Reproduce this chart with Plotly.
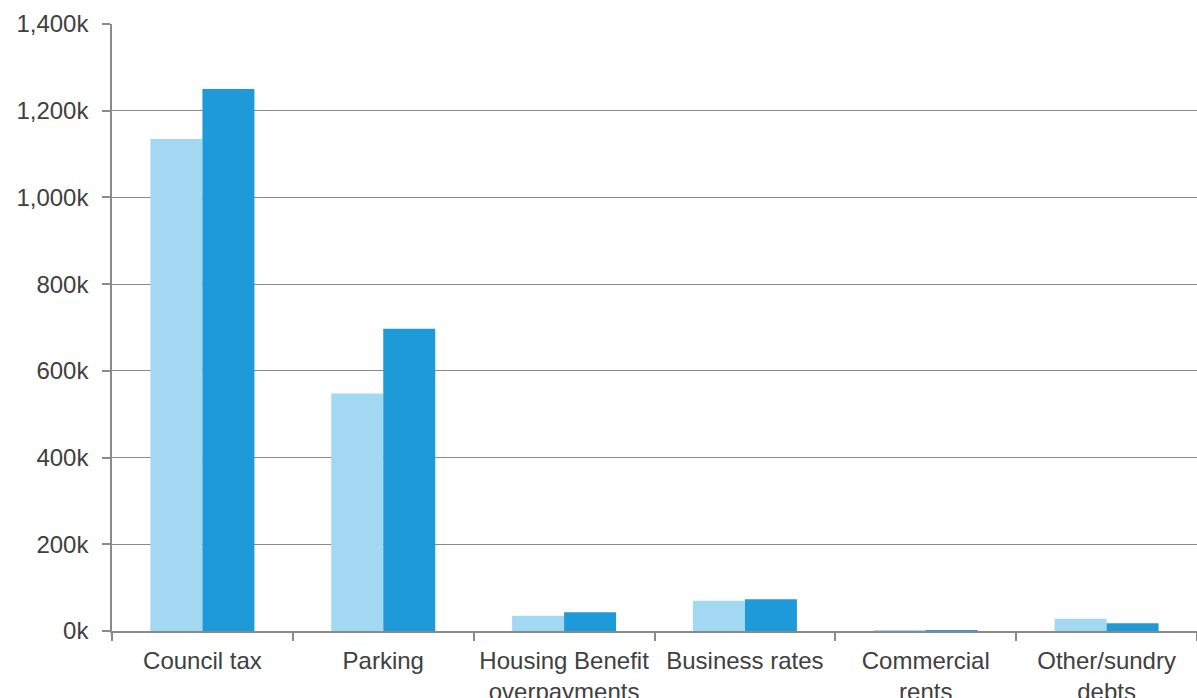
import plotly.graph_objects as go

categories = ["Council tax", "Parking", "Housing Benefit<br>overpayments", "Business rates",
              "Commercial<br>rents", "Other/sundry<br>debts"]
series_a = [1135000, 548000, 35000, 70000, 1000, 28000]
series_b = [1250000, 697000, 43000, 73000, 1000, 18000]
tick_vals = [0, 200000, 400000, 600000, 800000, 1000000, 1200000, 1400000]
tick_text = ["0k", "200k", "400k", "600k", "800k", "1,000k", "1,200k", "1,400k"]

grey = "#8a8a8a"
font = dict(family="Liberation Sans, Arial, sans-serif", size=24, color="#404040")

fig = go.Figure()
fig.add_trace(go.Bar(x=categories, y=series_a, marker=dict(color="#a3d8f2", line=dict(width=0)),
                     showlegend=False))
fig.add_trace(go.Bar(x=categories, y=series_b, marker=dict(color="#1f9ad8", line=dict(width=0)),
                     showlegend=False))

fig.update_layout(
    width=1197, height=698,
    margin=dict(l=112, r=0, t=24, b=67),
    plot_bgcolor="white", paper_bgcolor="white",
    barmode="group", bargap=0.425, bargroupgap=0,
    font=font,
    xaxis=dict(type="category", showline=True, linecolor=grey, linewidth=1.5,
               ticks="outside", tickson="boundaries", ticklen=8, tickcolor=grey, tickwidth=1.5,
               showgrid=False, tickfont=font, ticklabelstandoff=7, automargin=False),
    yaxis=dict(range=[0, 1400000], tickvals=tick_vals, ticktext=tick_text,
               showline=True, linecolor=grey, linewidth=1.5,
               ticks="outside", ticklen=8, tickcolor=grey, tickwidth=1.5,
               showgrid=True, gridcolor=grey, gridwidth=1.2, zeroline=False,
               ticklabelstandoff=9, tickfont=font, automargin=False),
)

fig.write_html("out.html")
